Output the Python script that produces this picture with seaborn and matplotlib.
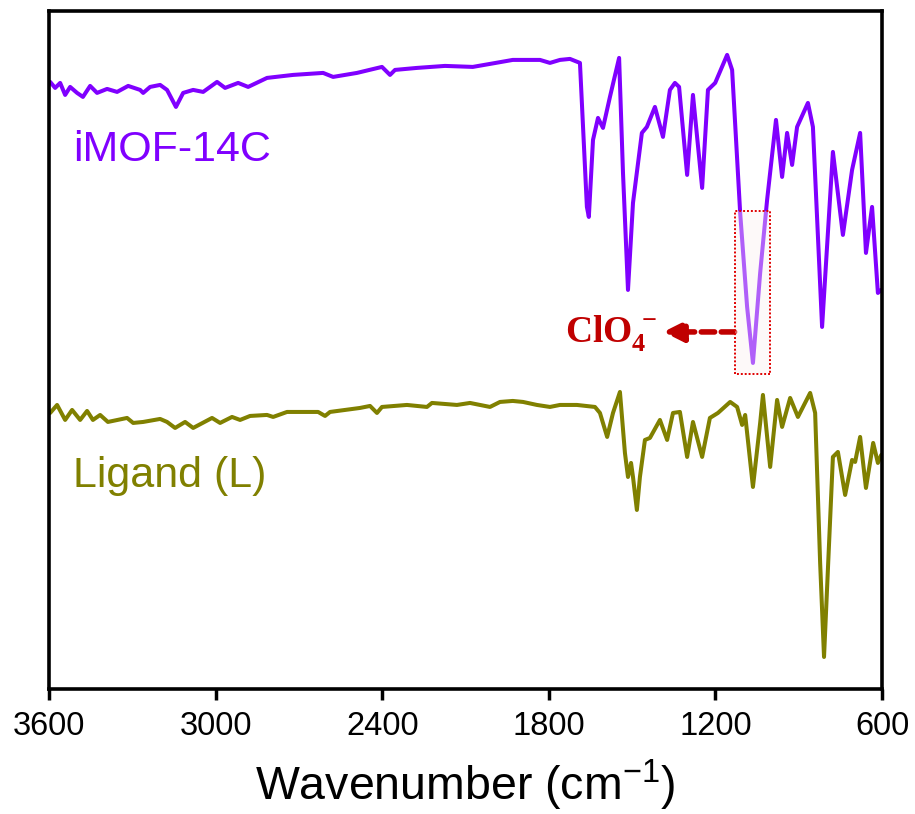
import matplotlib
matplotlib.use('Agg')
import matplotlib.pyplot as plt
import seaborn as sns
import pandas as pd
from matplotlib.patches import Rectangle

# iMOF-14C trace (wavenumber, transmittance in arbitrary units)
mof_wn = [3596, 3578, 3560, 3542, 3524, 3499, 3478, 3452, 3427, 3391, 3355, 3315, 3272, 3261,
          3236, 3200, 3175, 3143, 3117, 3081, 3045, 2995, 2966, 2919, 2883, 2815, 2721, 2613,
          2577, 2491, 2401, 2372, 2354, 2275, 2174, 2074, 2012, 1930, 1832, 1796, 1760, 1724,
          1688, 1663, 1656, 1641, 1623, 1605, 1580, 1547, 1533, 1515, 1497, 1465, 1447, 1418,
          1389, 1364, 1346, 1331, 1302, 1281, 1248, 1227, 1201, 1158, 1140, 1111, 1086, 1065,
          1039, 1014, 982, 960, 942, 924, 906, 867, 849, 816, 777, 741, 708, 679, 658, 636,
          615, 603]
mof_t = [607, 601, 606, 594, 602, 596, 592, 603, 596, 600, 597, 603, 599, 596,
         602, 604, 599, 582, 596, 599, 597, 607, 601, 606, 602, 611, 614, 616,
         612, 616, 622, 614, 619, 621, 623, 622, 625, 629, 629, 626, 629, 630,
         626, 482, 472, 549, 571, 561, 592, 631, 516, 399, 486, 556, 562, 582,
         552, 599, 606, 602, 514, 594, 501, 599, 606, 634, 619, 476, 382, 326,
         416, 489, 569, 512, 556, 524, 562, 586, 562, 362, 537, 454, 519, 556, 436, 482,
         396, 399]

# Ligand (L) trace
lig_wn = [3596, 3571, 3542, 3517, 3488, 3463, 3442, 3416, 3388, 3319, 3297, 3261, 3200, 3175,
          3146, 3110, 3081, 3013, 2984, 2941, 2912, 2876, 2815, 2793, 2743, 2671, 2631, 2606,
          2588, 2480, 2444, 2419, 2401, 2311, 2239, 2221, 2131, 2084, 2012, 1976, 1930, 1893,
          1843, 1796, 1760, 1699, 1634, 1616, 1590, 1569, 1544, 1526, 1515, 1504, 1497, 1483,
          1472, 1454, 1436, 1400, 1374, 1353, 1328, 1302, 1281, 1248, 1220, 1191, 1147, 1122,
          1104, 1093, 1065, 1039, 1029, 1003, 978, 960, 931, 903, 859, 841, 823, 809, 794,
          777, 759, 733, 708, 697, 679, 658, 632, 615, 603]
lig_t = [276, 284, 269, 279, 269, 278, 269, 274, 267, 271, 266, 267, 270, 267,
         261, 267, 261, 271, 266, 272, 269, 273, 274, 272, 277, 277, 277, 273,
         277, 281, 283, 276, 282, 284, 282, 286, 284, 286, 282, 287, 288, 287,
         284, 282, 284, 284, 282, 276, 252, 276, 297, 236, 212, 226, 212, 179,
         212, 249, 251, 269, 249, 276, 277, 232, 267, 232, 271, 276, 287, 282,
         264, 274, 202, 266, 294, 222, 289, 262, 291, 272, 296, 276, 126, 32, 126,
         232, 237, 194, 229, 227, 252, 201, 246, 226, 234]

xticks = [3600, 3000, 2400, 1800, 1200, 600]

mof_color = '#8000FF'
lig_color = '#808000'
red = '#C00000'

sns.set_style('ticks')
plt.rcParams['font.family'] = ['Liberation Sans', 'DejaVu Sans']
plt.rcParams['mathtext.fontset'] = 'custom'
plt.rcParams['mathtext.rm'] = 'Liberation Sans'
plt.rcParams['mathtext.bf'] = 'Liberation Serif:bold'

fig = plt.figure(figsize=(9.15, 8.14), dpi=100)
ax = fig.add_axes([0.0536, 0.1536, 0.9104, 0.833])

df_mof = pd.DataFrame({'wn': mof_wn, 't': mof_t})
df_lig = pd.DataFrame({'wn': lig_wn, 't': lig_t})
sns.lineplot(data=df_mof, x='wn', y='t', color=mof_color, lw=2.9, estimator=None, ax=ax)
sns.lineplot(data=df_lig, x='wn', y='t', color=lig_color, lw=2.9, estimator=None, ax=ax)

ax.set_xlim(3600, 600)
ax.set_ylim(0, 678)
ax.set_xticks(xticks)
ax.set_yticks([])
ax.set_ylabel('')
ax.tick_params(axis='x', labelsize=23.5, labelcolor='black', color='black',
               length=8, width=2.5, direction='out', pad=8)
for s in ax.spines.values():
    s.set_linewidth(2.6)
    s.set_color('black')
ax.set_xlabel('Wavenumber (cm$^{-1}$)', fontsize=33.5, color='black', labelpad=11)

ax.text(3513, 528, 'iMOF-14C', color=mof_color, fontsize=31, va='baseline')
ax.text(3513, 202, 'Ligand (L)', color=lig_color, fontsize=31, va='baseline')

# ClO4- highlight
box = Rectangle((1004, 315), 127, 163, facecolor=(0.98, 0.94, 0.94, 0.4),
                edgecolor='#E00000', lw=1.4, ls=(0, (1, 1)), zorder=5)
ax.add_patch(box)
ax.annotate('', xy=(1388, 357), xytext=(1131, 357),
            arrowprops=dict(arrowstyle='-|>,head_length=1.2,head_width=0.6',
                            color=red, lw=4, ls=(0, (2.4, 1.2)),
                            shrinkA=0, shrinkB=0))
ax.text(1742, 347, r'$\mathbf{ClO_4^{\,-}}$', color=red, fontsize=27, va='baseline')

fig.savefig('out.png', dpi=100)
